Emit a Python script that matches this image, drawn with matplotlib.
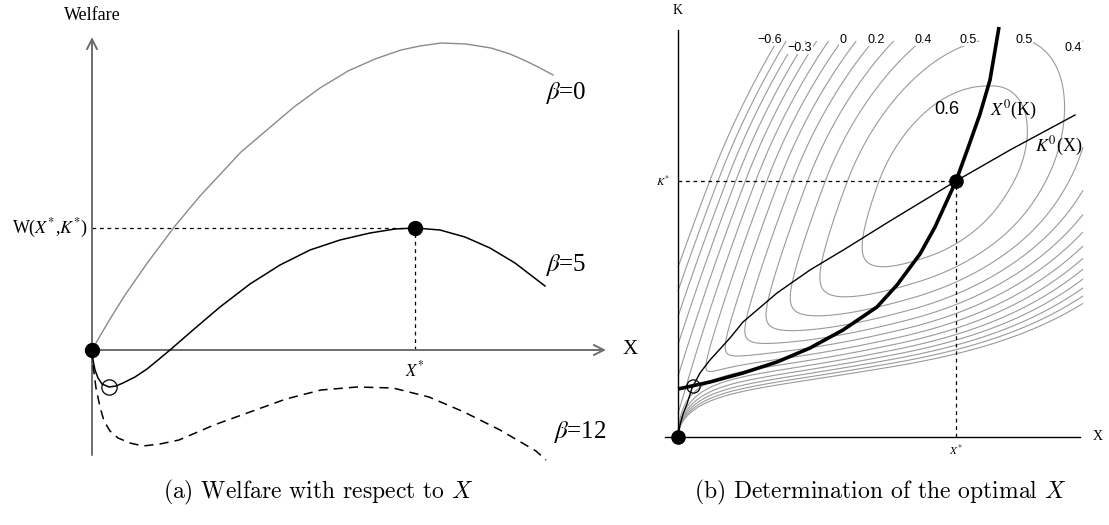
import numpy as np
import matplotlib
matplotlib.use('Agg')
import matplotlib.pyplot as plt

plt.rcParams['mathtext.fontset'] = 'stix'
plt.rcParams['font.family'] = ['Liberation Serif', 'DejaVu Serif']
plt.rcParams['contour.negative_linestyle'] = 'solid'

# ---------------- left panel data (pixels; converted to X*=1, W(X*,K*)=1 units)
b0_px = [92, 100, 110, 125, 148, 175, 200, 241, 294, 320, 348, 375, 401, 420, 441, 466, 491, 510, 526, 540, 553]
b0_py = [350, 336, 319, 295, 262, 226, 196, 152, 107, 88, 71, 59, 50, 46, 43, 44, 48, 54, 61, 68, 75]

b5_px = [92, 93, 95, 98, 102, 109, 116, 123, 135, 147, 158, 170, 193, 220, 250, 280, 310, 340, 370, 395, 415,
         440, 465, 490, 515, 545]
b5_py = [350, 360, 370, 378, 384, 387, 386, 383, 377, 369, 360, 350, 330, 307, 284, 265, 250, 240, 233, 229, 228,
         230, 237, 248, 263, 286]

b12_px = [92, 93, 96, 100, 104, 110, 118, 130, 143, 160, 179, 214, 250, 286, 321, 357, 393, 429, 464, 500, 536, 546]
b12_py = [350, 365, 388, 407, 421, 431, 438, 443, 446, 444, 440, 425, 412, 399, 390, 387, 388, 397, 412, 430, 451, 460]


def lx(p):
    return (np.asarray(p, float) - 92) / 323


def lw_(p):
    return (350 - np.asarray(p, float)) / 122


xstar_left, wstar_left = 1.0, 1.0
min5_x, min5_w = (109 - 92) / 323, (350 - 387) / 122

# ---------------- right panel: welfare surface W(X, K) used for the contour map
peak_x, peak_k, peak_w = 0.695, 0.64, 0.68       # top of the hill
shear = 0.38                                      # ridge leans right as K grows
left_q, left_g = 4.1, 2.4                         # left flank
right_q, right_g = 3.2, 2.0                       # right flank
k_up, k_down = 1.4, 0.285                         # penalty above / below K*
fan_q, fan_r0, fan_h, fan_s = 0.5, 1.685, 0.491, 0.15   # congestion fan at small K
levels = [-0.6, -0.5, -0.4, -0.3, -0.2, -0.1, 0, 0.1, 0.2, 0.3, 0.4, 0.5, 0.6]

x0K_px = [678, 710, 743, 777, 810, 843, 877, 897, 920, 935, 956, 968, 980, 990, 999]
x0K_py = [389, 382, 373, 362, 348, 330, 307, 285, 254, 227, 181, 148, 114, 80, 27]
k0X_px = [678, 680, 683, 687, 692, 700, 710, 730, 743, 777, 810, 845, 890, 956, 1010, 1075]
k0X_py = [437, 425, 414, 404, 388, 373, 360, 338, 322, 293, 270, 249, 221, 181, 150, 115]


def rx(p):
    return (np.asarray(p, float) - 678) / 400


def rk(p):
    return (437 - np.asarray(p, float)) / 400


xstar, kstar = 0.695, 0.64
open_r = (rx(693), rk(386))

clab_txt = ['\u22120.6', '\u22120.3', '0', '0.2', '0.4', '0.5', '0.5', '0.4']
clab_px = [770, 800, 843, 876, 923, 968, 1024, 1073]
clab_py = [40, 48, 40, 40, 40, 40, 40, 48]

# ---------------- figure
fig = plt.figure(figsize=(11.09, 5.25), dpi=100)
ax1 = fig.add_axes([0, 0, 640 / 1109, 1])
ax1.set_xlim(lx(0), lx(640))
ax1.set_ylim(lw_(525), lw_(0))
ax1.axis('off')

gcol = '#6e6e6e'
ax1.annotate('', xy=(0, lw_(37)), xytext=(0, lw_(455)),
             arrowprops=dict(arrowstyle='->', color=gcol, lw=1.4, shrinkA=0, shrinkB=0, mutation_scale=18))
ax1.annotate('', xy=(lx(606), 0), xytext=(lx(86), 0),
             arrowprops=dict(arrowstyle='->', color=gcol, lw=1.4, shrinkA=0, shrinkB=0, mutation_scale=18))

ax1.plot(lx(b0_px), lw_(b0_py), color='#8a8a8a', lw=1.0, zorder=3)
ax1.plot(lx(b5_px), lw_(b5_py), color='black', lw=1.1, zorder=3)
ax1.plot(lx(b12_px), lw_(b12_py), color='black', lw=1.1, ls=(0, (6, 4)), zorder=3)
ax1.plot([0, xstar_left], [wstar_left, wstar_left], color='black', lw=0.9, ls=(0, (3, 3)))
ax1.plot([xstar_left, xstar_left], [0, wstar_left], color='black', lw=0.9, ls=(0, (3, 3)))
ax1.plot([0, xstar_left], [0, wstar_left], 'o', color='black', ms=10, zorder=5)
ax1.plot([min5_x], [min5_w], 'o', mfc='none', mec='black', mew=0.9, ms=11, zorder=5)

ax1.text(0, lw_(15), 'Welfare', ha='center', va='center', fontsize=13)
ax1.text(lx(630), 0, 'X', ha='center', va='center', fontsize=15)
ax1.text(lx(88), wstar_left, 'W($X^{*}$,$K^{*}$)', ha='right', va='center', fontsize=13)
ax1.text(xstar_left, lw_(370), '$X^{*}$', ha='center', va='center', fontsize=12)
ax1.text(lx(545), lw_(93), r'$\beta$=0', ha='left', va='center', fontsize=18)
ax1.text(lx(545), lw_(265), r'$\beta$=5', ha='left', va='center', fontsize=18)
ax1.text(lx(553), lw_(432), r'$\beta$=12', ha='left', va='center', fontsize=18)

# ---------------- right panel
ax2 = fig.add_axes([640 / 1109, 0, 469 / 1109, 1])
ax2.set_xlim(rx(640), rx(1109))
ax2.set_ylim(rk(525), rk(0))
ax2.axis('off')


def welfare(x, k):
    u = x - shear * (k - peak_k)
    d = u - peak_x
    f = np.where(d < 0, peak_w - left_q * np.abs(d) ** left_g, peak_w - right_q * np.abs(d) ** right_g)
    g = np.where(k > peak_k, -k_up * (k - peak_k) ** 2, -k_down * (peak_k - k) ** 2)
    r = x ** fan_q / k
    z = (r - fan_r0) / fan_s
    loss = fan_h * fan_s * np.logaddexp(0, z)
    return f + g - loss


gx = np.linspace(0.0, 1.0125, 700)
gk = np.linspace(0.0008, 0.99, 700)
GX, GK = np.meshgrid(gx, gk)
GW = welfare(GX, GK)
ax2.contour(GX, GK, GW, levels=levels, colors='#9a9a9a', linewidths=0.8, zorder=2)

for t, px, py in zip(clab_txt, clab_px, clab_py):
    ax2.text(rx(px), rk(py), t, ha='center', va='center', fontsize=9, family='Liberation Sans',
             bbox=dict(facecolor='white', edgecolor='none', pad=0.3), zorder=3)

ax2.plot([0, 0], [0, rk(30)], color='black', lw=1.0, zorder=4)
ax2.plot([rx(665), rx(1080)], [0, 0], color='black', lw=1.0, zorder=4)
ax2.plot(rx(x0K_px), rk(x0K_py), color='black', lw=2.6, zorder=5, solid_capstyle='butt')
ax2.plot(rx(k0X_px), rk(k0X_py), color='black', lw=1.0, zorder=5)
ax2.plot([0, xstar], [kstar, kstar], color='black', lw=0.9, ls=(0, (3, 3)), zorder=4)
ax2.plot([xstar, xstar], [0, kstar], color='black', lw=0.9, ls=(0, (3, 3)), zorder=4)
ax2.plot([0, xstar], [0, kstar], 'o', color='black', ms=9.5, zorder=6)
ax2.plot([open_r[0]], [open_r[1]], 'o', mfc='none', mec='black', mew=0.9, ms=9.5, zorder=6)

ax2.text(0.0, rk(10), 'K', ha='center', va='center', fontsize=10)
ax2.text(rx(1098), 0, 'X', ha='center', va='center', fontsize=10)
ax2.text(rx(670), kstar, '$K^{*}$', ha='right', va='center', fontsize=8)
ax2.text(xstar, rk(450), '$X^{*}$', ha='center', va='center', fontsize=8)
ax2.text(rx(947), rk(109), '0.6', ha='center', va='center', fontsize=13, family='Liberation Sans', zorder=6)
ax2.text(rx(990), rk(110), '$X^{0}$(K)', ha='left', va='center', fontsize=13, zorder=6)
ax2.text(rx(1035), rk(146), '$K^{0}$(X)', ha='left', va='center', fontsize=13, zorder=6)

fig.text(318 / 1109, 1 - 492 / 525, r'(a) Welfare with respect to $X$', ha='center', va='center',
         fontsize=17, family='cmr10', math_fontfamily='cm')
fig.text(694 / 1109, 1 - 492 / 525, r'(b) Determination of the optimal $X$', ha='left', va='center',
         fontsize=17, family='cmr10', math_fontfamily='cm')

fig.savefig('out.png', dpi=100)
